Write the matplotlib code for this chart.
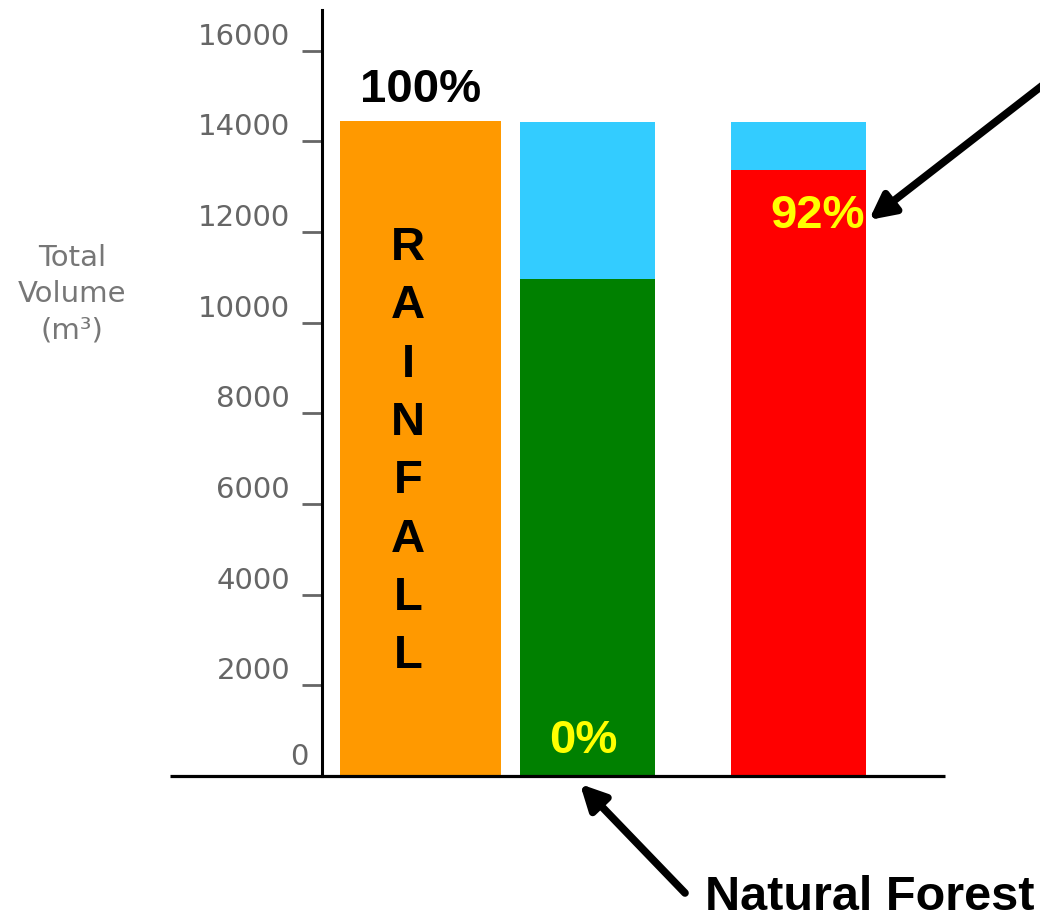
import matplotlib
matplotlib.use("Agg")
import matplotlib.pyplot as plt

# data (m³)
bar_names = ['Rainfall', 'Natural Forest', 'Cleared']
lower_vals = [14450, 10960, 13370]
upper_vals = [0, 3470, 1060]
pct_labels = ['100%', '0%', '92%']
ytick_vals = [2000, 4000, 6000, 8000, 10000, 12000, 14000, 16000]

lower_colors = ['#FF9900', '#008000', '#FF0000']
upper_color = '#33CCFF'

# layout (1 x-unit = 100 px)
centers = [0.985, 2.655, 4.765]
widths = [1.61, 1.35, 1.35]

W, H = 1040, 921
fig = plt.figure(figsize=(W / 100, H / 100), dpi=100)
ax = fig.add_axes([322 / W, 145 / H, 623 / W, 766 / H])

ax.bar(centers, lower_vals, width=widths, color=lower_colors, linewidth=0)
ax.bar(centers, upper_vals, width=widths, bottom=lower_vals, color=upper_color, linewidth=0)

ax.set_xlim(0, 6.23)
ax.set_ylim(0, 16900)

for s in ['top', 'right', 'bottom']:
    ax.spines[s].set_visible(False)
ax.spines['left'].set_linewidth(2.2)
ax.spines['left'].set_color('black')

# x axis line runs further left than the y axis
ax.plot([(170 - 322) / 623, 1], [0, 0], transform=ax.transAxes, clip_on=False,
        color='black', lw=2.3, solid_capstyle='butt')

ax.set_xticks([])
ax.set_yticks(ytick_vals)
ax.set_yticklabels([str(v) for v in ytick_vals], va='bottom',
                   fontsize=21, color='#666666', family='DejaVu Sans')
ax.tick_params(axis='y', length=14.4, width=2, color='#666666', pad=8.6)

ax.annotate('0', xy=(0, 0), xycoords=('axes fraction', 'data'),
            xytext=(-14, 11), textcoords='offset pixels', ha='right', va='baseline',
            fontsize=21, color='#666666', family='DejaVu Sans')

fig.text(72 / W, 1 - 294 / H, 'Total\nVolume\n(m³)', ha='center', va='center',
         fontsize=21, color='#777777', linespacing=1.37, family='DejaVu Sans')

bold = dict(family='Liberation Sans', weight='bold', fontsize=34)

# percent labels
ax.annotate(pct_labels[0], xy=(centers[0], lower_vals[0]), xytext=(0, 19),
            textcoords='offset pixels', ha='center', va='baseline', color='black', **bold)
ax.annotate(pct_labels[1], xy=(centers[1], 0), xytext=(-4, 23),
            textcoords='offset pixels', ha='center', va='baseline', color='#FFFF00', **bold)
ax.annotate(pct_labels[2], xy=(centers[2] + widths[2] / 2, lower_vals[2]), xytext=(-1, -58),
            textcoords='offset pixels', ha='right', va='baseline', color='#FFFF00', **bold)

# RAINFALL written down the orange bar
for i, ch in enumerate('RAINFALL'):
    fig.text(408 / W, 1 - (248 + i * 58.3) / H, ch, ha='center', va='center', color='black', **bold)

fig.text(705 / W, 1 / H, bar_names[1], ha='left', va='bottom', color='black',
         family='Liberation Sans', weight='bold', fontsize=35)

arrow = dict(arrowstyle='-|>,head_length=0.75,head_width=0.38', lw=5.5, color='black',
             shrinkA=0, shrinkB=0, mutation_scale=20)
fig.patches.append(matplotlib.patches.FancyArrowPatch(
    (1052, H - 78), (869, H - 220), transform=None, **arrow))
fig.patches.append(matplotlib.patches.FancyArrowPatch(
    (685, H - 893), (580, H - 784), transform=None, **arrow))

fig.savefig('out.png', dpi=100)
